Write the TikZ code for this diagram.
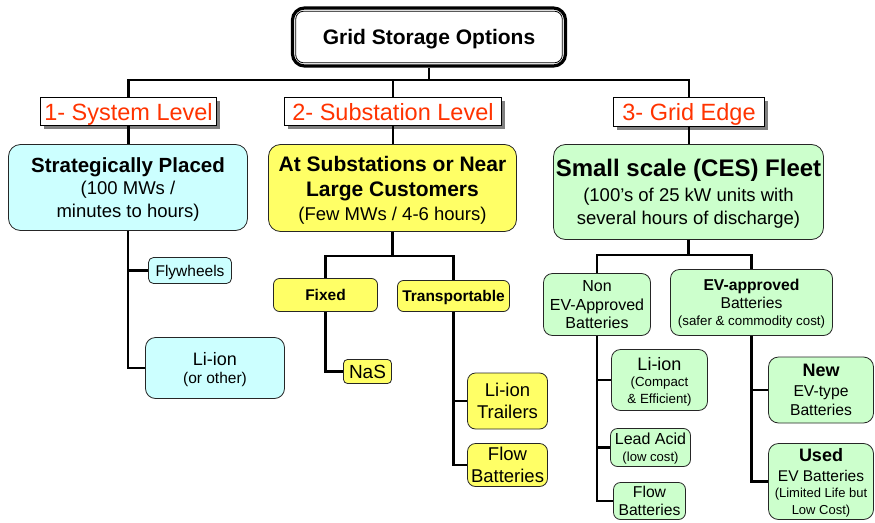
\documentclass[tikz,border=0pt]{standalone}
\usepackage{fontspec}
\setmainfont{Liberation Sans}
\usetikzlibrary{shadows}
\definecolor{lvlred}{HTML}{FF3300}
\definecolor{cyanfill}{HTML}{CCFFFF}
\definecolor{yellowfill}{HTML}{FFFF66}
\definecolor{greenfill}{HTML}{CCFFCC}
\newcommand\setfs[2]{\fontsize{#1pt}{#2pt}\selectfont}
\begin{document}
\begin{tikzpicture}[x=1pt,y=-1pt,
  conn/.style={line width=2.6pt},
  sized/.style 2 args={minimum width=#1, minimum height=#2},
  titlebox/.style={draw, line width=3.2pt, rounded corners=12pt, fill=white, inner sep=0pt,
    text depth=0pt},
  lvl/.style={draw=black, line width=0.8pt, fill=white, text=lvlred, inner sep=0pt,
    font=\setfs{23.5}{28}, text depth=0pt,
    drop shadow={shadow xshift=3pt, shadow yshift=-3pt, fill=black!50, opacity=1}},
  box/.style={draw=black!85, line width=0.8pt, rounded corners=#1, align=center, inner sep=0pt,
    text depth=0pt},
  box/.default=7pt,
  cbox/.style={box=#1, fill=cyanfill},
  cbox/.default=7pt,
  ybox/.style={box=#1, fill=yellowfill},
  ybox/.default=7pt,
  gbox/.style={box=#1, fill=greenfill},
  gbox/.default=7pt,
]
\useasboundingbox[fill=white] (0,0) rectangle (875,522);

% top title with its double frame
\node[titlebox, sized={273}{58}] (title) at (429,37)
  {\setfs{21}{25}\bfseries Grid Storage Options};
\draw[line width=0.8pt, rounded corners=8pt]
  ([shift={(4.8,4.8)}]title.north west) rectangle ([shift={(-4.8,-4.8)}]title.south east);

% the three levels
\node[lvl, sized={176}{28}] (L1) at (128.5,111.5) {1- System Level};
\node[lvl, sized={217}{28}] (L2) at (393,111.5) {2- Substation Level};
\node[lvl, sized={151}{29}] (L3) at (689,112) {3- Grid Edge};

% level 1: system
\node[cbox=12pt, sized={239}{86}, font=\setfs{18.5}{22.5}] (S1) at (128,187.5)
  {\setfs{20.5}{22.5}\bfseries Strategically Placed\\
   (100 MWs /\\ minutes to hours)};
\node[cbox=5pt, sized={83}{26}, font=\setfs{15.5}{18}] (Fly) at (190,270.5) {Flywheels};
\node[cbox=10pt, sized={139}{61}, font=\setfs{15.5}{18.5}] (LiB) at (215,368)
  {\setfs{18}{18.5}Li-ion\\ (or other)};

% level 2: substation
\node[ybox=12pt, sized={248}{87}, font=\setfs{21}{25.5}] (S2) at (392.5,188)
  {\bfseries At Substations or Near\\ \bfseries Large Customers\\[-1.8pt]
   \setfs{18.5}{24}(Few MWs / 4-6 hours)};
\node[ybox=6pt, sized={104}{33}, font=\setfs{15.5}{18}\bfseries] (Fixed) at (325.5,295) {Fixed};
\node[ybox=6pt, sized={112}{31}, font=\setfs{15.5}{18}\bfseries] (Trans) at (453.5,296) {Transportable};
\node[ybox=4pt, sized={48}{24}, font=\setfs{19}{21}] (NaS) at (367.5,371.5) {NaS};
\node[ybox=8pt, sized={80}{56}, font=\setfs{18.5}{21.5}] (LiT) at (507.5,401)
  {Li-ion\\ Trailers};
\node[ybox=8pt, sized={80}{43}, font=\setfs{18.5}{21.5}] (FlowY) at (507.5,465)
  {Flow\\ Batteries};

% level 3: grid edge
\node[gbox=12pt, sized={270}{95}, font=\setfs{18.5}{22.5}] (S3) at (688.5,192)
  {\setfs{24}{26}\bfseries Small scale (CES) Fleet\\[2.5pt]
   (100’s of 25 kW units with\\ several hours of discharge)};
\node[gbox=9pt, sized={107}{62}, font=\setfs{16}{18.5}] (NonEV) at (597,304.5)
  {Non\\ EV-Approved\\ Batteries};
\node[gbox=9pt, sized={162}{66}, font=\setfs{15.7}{17.5}] (EVA) at (751.5,302.5)
  {\bfseries EV-approved\\ Batteries\\
   \setfs{13.3}{17}(safer \& commodity cost)};
\node[gbox=9pt, sized={96}{61}, font=\setfs{13.3}{16.5}] (LiG) at (659.5,380)
  {\setfs{18}{18}Li-ion\\ (Compact\\ \& Efficient)};
\node[gbox=7pt, sized={80}{38}, font=\setfs{13.1}{17}] (Lead) at (650.5,447.5)
  {\setfs{16}{17}Lead Acid\\ (low cost)};
\node[gbox=7pt, sized={72}{37}, font=\setfs{15.7}{18}] (FlowG) at (649.5,501)
  {Flow\\ Batteries};
\node[gbox=10pt, sized={105}{66}, font=\setfs{15.7}{19.5}] (New) at (821,390)
  {\setfs{18}{19.5}\bfseries New\\ EV-type\\ Batteries};
\node[gbox=10pt, sized={105}{76}, font=\setfs{13}{16.5}] (Used) at (821,481.5)
  {\setfs{18}{20}\bfseries Used\\[3pt] \setfs{15.5}{18}EV Batteries\\
   (Limited Life but\\ Low Cost)};

% connectors: title to levels
\coordinate (bar) at (0,80);
\draw[conn] (title.south) -- (title.south |- bar);
\draw[conn] (L1.north) |- (L3.north |- bar) -- (L3.north);
\draw[conn] (L2.north) -- (L2.north |- bar);
\draw[conn] (L1.south) -- (L1.south |- S1.north);
\draw[conn] (L2.south) -- (L2.south |- S2.north);
\draw[conn] (L3.south) -- (L3.south |- S3.north);

% system level branches
\draw[conn] (S1.south) |- (LiB.west);
\draw[conn] (S1.south |- Fly.west) -- (Fly.west);

% substation level branches
\coordinate (s2j) at (0,256);
\draw[conn] (S2.south) -- (S2.south |- s2j);
\draw[conn] (Fixed.north) |- (Trans.north |- s2j) -- (Trans.north);
\draw[conn] (Fixed.south) |- (NaS.west);
\draw[conn] (Trans.south) |- (FlowY.west);
\draw[conn] (Trans.south |- LiT.west) -- (LiT.west);

% grid edge branches
\coordinate (s3j) at (0,255);
\draw[conn] (S3.south) -- (S3.south |- s3j);
\draw[conn] (NonEV.north) |- (EVA.north |- s3j) -- (EVA.north);
\draw[conn] (NonEV.south) |- (FlowG.west);
\draw[conn] (NonEV.south |- LiG.west) -- (LiG.west);
\draw[conn] (NonEV.south |- Lead.west) -- (Lead.west);
\draw[conn] (EVA.south) |- (Used.west);
\draw[conn] (EVA.south |- New.west) -- (New.west);
\end{tikzpicture}
\end{document}
